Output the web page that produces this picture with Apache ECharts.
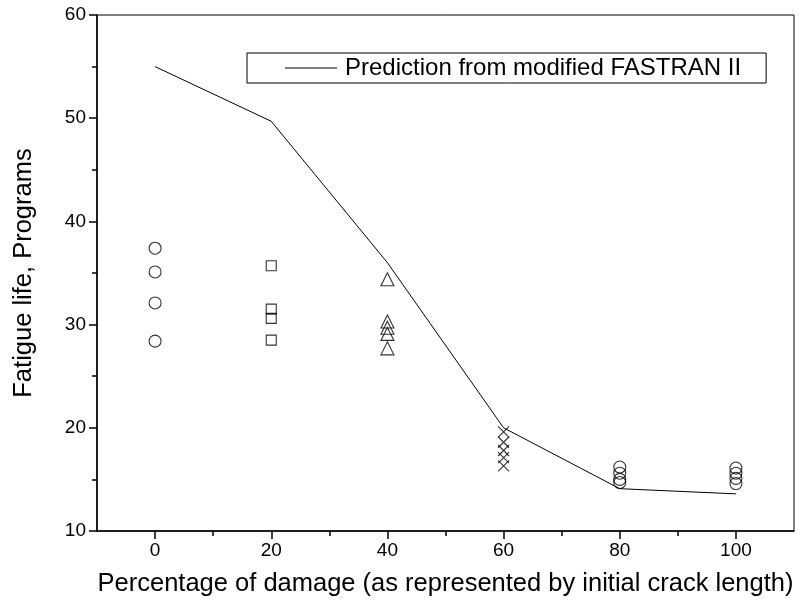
<!DOCTYPE html>
<html>
<head>
<meta charset="utf-8">
<script src="https://cdn.jsdelivr.net/npm/echarts@6/dist/echarts.min.js"></script>
<style>html,body{margin:0;padding:0;background:#fff}#c{width:800px;height:608px}</style>
</head>
<body>
<div id="c"></div>
<script>
const FONT = "'Liberation Sans', Arial, sans-serif";
const xMajorTicks = [0, 20, 40, 60, 80, 100];
const xMinorTicks = [10, 30, 50, 70, 90];
const predX = [0, 20, 40, 60, 80, 100];
const predY = [55.0, 49.7, 36.0, 20.0, 14.1, 13.6];
const circles0 = [37.4, 35.1, 32.1, 28.4];
const squares20 = [35.7, 31.5, 30.6, 28.5];
const triangles40 = [34.4, 30.3, 29.7, 29.1, 27.7];
const crosses60 = [19.6, 18.6, 17.8, 17.1, 16.3];
const circles80 = [16.2, 15.6, 15.0, 14.7];
const circles100 = [16.1, 15.6, 15.1, 14.6];
const legendLabel = 'Prediction from modified FASTRAN II';
const xName = 'Percentage of damage (as represented by initial crack length)';
const yName = 'Fatigue life, Programs';

function pts(x, arr) { return arr.map(v => [x, v]); }
const crossPath = 'path://M0,0L10,10M10,0L0,10';

const chart = echarts.init(document.getElementById('c'), null, {renderer: 'canvas'});
const scatterBase = {
  type: 'scatter',
  itemStyle: {color: 'rgba(0,0,0,0)', borderColor: '#000', borderWidth: 1.1},
  emphasis: {disabled: true},
  z: 3
};
chart.setOption({
  animation: false,
  backgroundColor: '#fff',
  textStyle: {fontFamily: FONT},
  grid: {left: 97, right: 6, top: 15, bottom: 77, show: true, borderColor: '#000', borderWidth: 1, backgroundColor: 'transparent'},
  legend: {
    data: [{name: legendLabel, icon: 'rect'}],
    left: 247, top: 53,
    padding: [3, 25, 3, 38],
    borderColor: '#000', borderWidth: 1,
    itemWidth: 52, itemHeight: 1,
    itemStyle: {color: '#000', borderWidth: 0},
    textStyle: {fontSize: 24, color: '#000', fontFamily: FONT, padding: [0, 0, 0, 3]}
  },
  xAxis: [{
    type: 'value', min: -10, max: 110, position: 'bottom',
    axisLine: {onZero: false, lineStyle: {color: '#000', width: 1.5}},
    axisTick: {length: 8, customValues: xMajorTicks, lineStyle: {color: '#000', width: 1.5}},
    axisLabel: {customValues: xMajorTicks, fontSize: 19, color: '#000', margin: 10, fontFamily: FONT},
    splitLine: {show: false},
    name: xName, nameLocation: 'middle', nameGap: 40,
    nameTextStyle: {fontSize: 25.5, color: '#000', fontFamily: FONT}
  }, {
    type: 'value', min: -10, max: 110, position: 'bottom',
    axisLine: {show: false, onZero: false},
    axisTick: {length: 5, customValues: xMinorTicks, lineStyle: {color: '#000', width: 1.5}},
    axisLabel: {show: false},
    splitLine: {show: false}
  }],
  yAxis: {
    type: 'value', min: 10, max: 60, interval: 10,
    axisLine: {show: true, onZero: false, lineStyle: {color: '#000', width: 1.5}},
    axisTick: {show: true, length: 8, lineStyle: {color: '#000', width: 1.5}},
    minorTick: {show: true, splitNumber: 2, length: 5, lineStyle: {color: '#000', width: 1.5}},
    axisLabel: {fontSize: 19, color: '#000', margin: 11, fontFamily: FONT},
    splitLine: {show: false},
    name: yName, nameLocation: 'middle', nameGap: 60,
    nameTextStyle: {fontSize: 25.5, color: '#000', fontFamily: FONT}
  },
  series: [
    {name: legendLabel, type: 'line', data: predX.map((x, i) => [x, predY[i]]), symbol: 'none',
     lineStyle: {color: '#000', width: 1}, itemStyle: {color: '#000'}, emphasis: {disabled: true}, z: 2},
    Object.assign({}, scatterBase, {name: 'd0', data: pts(0, circles0), symbol: 'circle', symbolSize: 12}),
    Object.assign({}, scatterBase, {name: 'd20', data: pts(20, squares20), symbol: 'rect', symbolSize: 10}),
    Object.assign({}, scatterBase, {name: 'd40', data: pts(40, triangles40), symbol: 'triangle', symbolSize: 13}),
    Object.assign({}, scatterBase, {name: 'd60', data: pts(60, crosses60), symbol: crossPath, symbolSize: 11}),
    Object.assign({}, scatterBase, {name: 'd80', data: pts(80, circles80), symbol: 'circle', symbolSize: 12}),
    Object.assign({}, scatterBase, {name: 'd100', data: pts(100, circles100), symbol: 'circle', symbolSize: 12})
  ]
});
</script>
</body>
</html>
